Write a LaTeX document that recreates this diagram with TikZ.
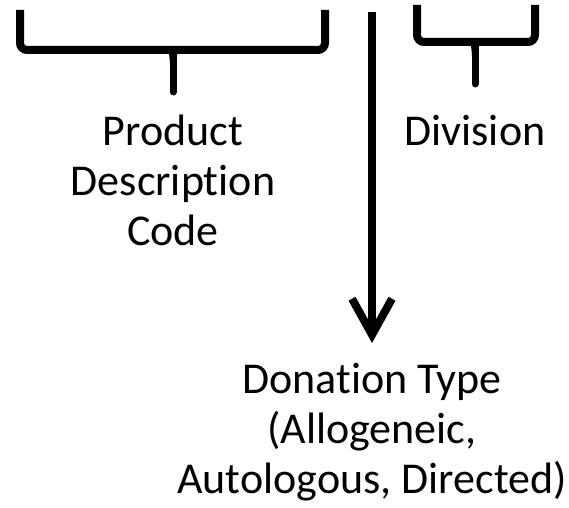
\documentclass[tikz,border=0pt]{standalone}
\usepackage{fontspec}
\setmainfont[Ligatures=NoCommon]{Carlito}
\usetikzlibrary{arrows.meta}
\usetikzlibrary{positioning}
\tikzstyle{brace}=[draw,black,line width=8bp,rounded corners=7bp]
\tikzstyle{bracetip}=[draw,black,line width=7bp,line cap=round]
\tikzstyle{field}=[align=center,inner sep=0pt,font=\fontsize{44bp}{50bp}\selectfont]
\tikzstyle{bigarrow}=[draw,black,line width=8bp,-{Straight Barb[length=36bp,width=40bp]}]

\begin{document}
\begin{tikzpicture}[x=1bp,y=-1bp]
    \useasboundingbox (0,0) rectangle (569,508);

    % the two braces, ends / middle / tip
    \foreach \name/\xa/\xb/\xt/\top/\mid/\tip in {pdc/20/325/173/10/50/92, div/417/535/475/5/42/84}
    {
        \coordinate (\name-a) at (\xa,\top);
        \coordinate (\name-b) at (\xb,\top);
        \coordinate (\name-m) at (\xt,\mid);
        \coordinate (\name-t) at (\xt,\tip);
        \path[brace] (\name-a) -- (\xa,\mid) -- (\xb,\mid) -- (\name-b);
        \path[bracetip] (\name-m) -- (\name-t);
        \fill[black] (\xt-13,\mid) .. controls (\xt-4,\mid) .. (\xt-3,\mid+14)
            -- (\xt+3,\mid+14) .. controls (\xt+4,\mid) .. (\xt+13,\mid) -- cycle;
    }

    % labels
    \node[field] (pdc) at (173,180) {Product\\Description\\Code};
    \node[field] (div) at (475,131) {Division};
    \node[field,anchor=north] (don) at (372,363) {Donation Type\\(Allogeneic,\\Autologous, Directed)};

    % the long arrow
    \coordinate (start) at (372,12);
    \path[bigarrow] (start) -- ([yshift=20bp]don.north);

\end{tikzpicture}
\end{document}
